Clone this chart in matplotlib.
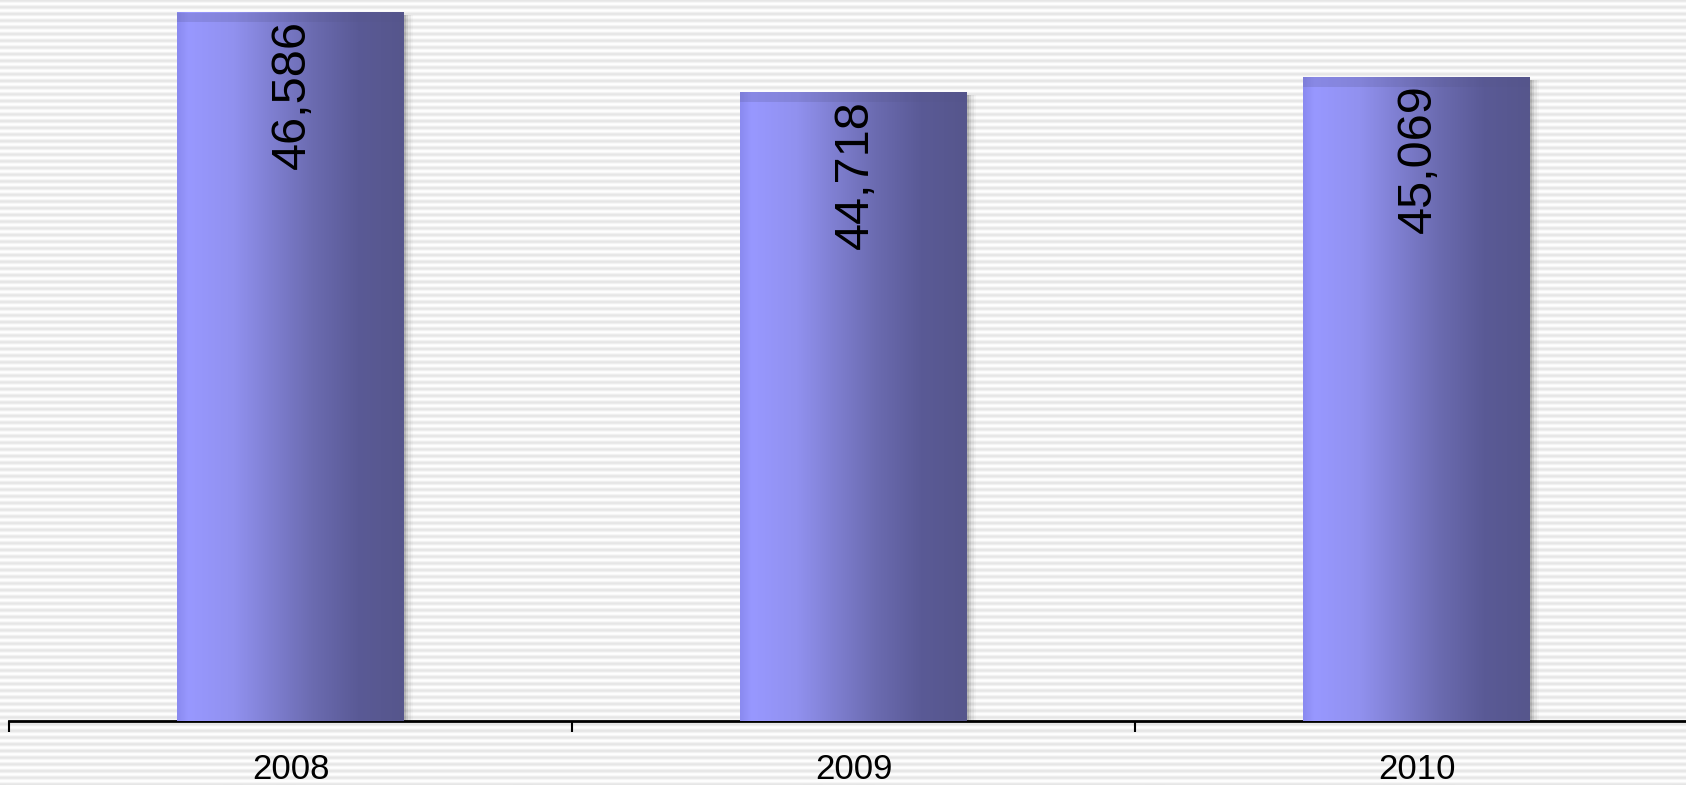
import numpy as np
import matplotlib.pyplot as plt
from matplotlib.colors import LinearSegmentedColormap
from matplotlib.patches import Rectangle

years = ['2008', '2009', '2010']
values = [46586, 44718, 45069]
labels = ['46,586', '44,718', '45,069']

W, H = 1686, 785
fig = plt.figure(figsize=(W / 100, H / 100), dpi=100)
fig.patch.set_facecolor('white')

# striped background
bg = fig.add_axes([0, 0, 1, 1], zorder=0)
rows = np.arange(H)
stripe = 0.5 + 0.5 * np.cos(2 * np.pi * rows / 6.7)
bg.imshow(stripe[:, None], cmap=LinearSegmentedColormap.from_list('bg', ['#ffffff', '#e6e6e6']),
          aspect='auto', extent=[0, 1, 0, 1], interpolation='bilinear')
bg.axis('off')

# plot axes: x spans 9..1698 px, y bottom at 721 px
left = 9 / W
width = (1698 - 9) / W
bottom = (H - 721) / H
height = 726 / H
ax = fig.add_axes([left, bottom, width, height], zorder=1)
ax.patch.set_alpha(0)

x = np.arange(len(years))
bars = ax.bar(x, values, width=0.403, bottom=0, color='none', zorder=3)
ax.set_xlim(-0.5, 2.5)
ax.set_ylim(30000, 47000)

grad_cmap = LinearSegmentedColormap.from_list(
    'bar', [(0.0, '#8a8af0'), (0.05, '#9898ff'), (0.25, '#9191ef'),
            (0.6, '#6b6bb0'), (0.8, '#5a5a96'), (1.0, '#56568c')])
grad = np.linspace(0, 1, 256)[None, :]

for b, lab in zip(bars, labels):
    x0, w, top = b.get_x(), b.get_width(), b.get_height()
    # soft shadow to the right
    for k, a in enumerate([0.18, 0.12, 0.07, 0.03]):
        ax.add_patch(Rectangle((x0 + w, 30000), 0.004 * (k + 1), top - 30000 - 60,
                               facecolor='#444444', alpha=a, edgecolor='none', zorder=2))
    ax.imshow(grad, cmap=grad_cmap, aspect='auto', extent=[x0, x0 + w, 30000, top],
              zorder=3, interpolation='bilinear')
    # darker bevel along the top
    ax.add_patch(Rectangle((x0, top - 220), w, 220, facecolor='#55558a', alpha=0.22,
                           edgecolor='none', zorder=4))
    ax.text(x0 + w / 2 + 0.004, top - 170, lab, rotation=90, ha='center', va='top',
            fontsize=35, family='Liberation Sans', color='black', zorder=5)

ax.set_xlim(-0.5, 2.5)
ax.set_ylim(30000, 47000)

for s in ['top', 'right', 'left']:
    ax.spines[s].set_visible(False)
ax.spines['bottom'].set_linewidth(2)
ax.set_yticks([])
ax.set_xticks([-0.5, 0.5, 1.5, 2.5])
ax.set_xticklabels([])
ax.tick_params(axis='x', length=8, width=1.5, direction='out')
ax.set_xticks(x, minor=True)
ax.set_xticklabels(years, minor=True, fontsize=25, family='Liberation Sans')
ax.tick_params(axis='x', which='minor', length=0, pad=23)

fig.savefig('out.png', dpi=100)
